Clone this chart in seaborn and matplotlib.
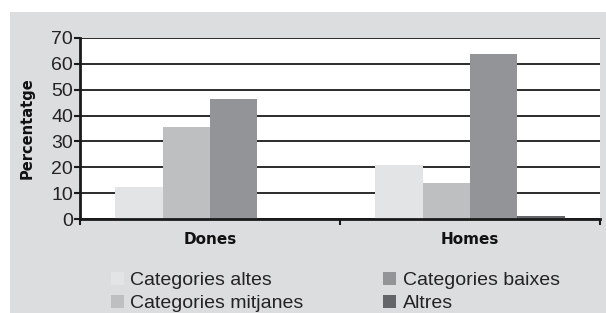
import pandas as pd
import matplotlib.pyplot as plt
import seaborn as sns
from matplotlib.patches import Rectangle

# Data
grups = ["Dones", "Homes"]
categories = ["Categories altes", "Categories mitjanes", "Categories baixes", "Altres"]
altes = [12.5, 20.8]
mitjanes = [35.6, 13.8]
baixes = [46.3, 63.7]
altres = [0.0, 1.0]
colors = ["#e3e4e6", "#bebfc1", "#939497", "#646568"]
yticks = [0, 10, 20, 30, 40, 50, 60, 70]

rows = []
for cat, vals in zip(categories, [altes, mitjanes, baixes, altres]):
    for g, v in zip(grups, vals):
        rows.append({"grup": g, "categoria": cat, "valor": v})
df = pd.DataFrame(rows)

sns.set_theme(style="white")
plt.rcParams["font.family"] = ["Liberation Sans", "DejaVu Sans"]

W, H = 606, 313
fig = plt.figure(figsize=(W / 100, H / 100), dpi=100, facecolor="white")
# grey panel behind the chart
fig.patches.append(Rectangle((10 / W, 0), 1, 1 - 12 / H, transform=fig.transFigure,
                             facecolor="#dcdddf", edgecolor="none", zorder=-10))

ax = fig.add_axes([80 / W, 1 - 219 / H, 520 / W, (219 - 38) / H])
ax.set_facecolor("white")

sns.barplot(data=df, x="grup", y="valor", hue="categoria", hue_order=categories,
            palette=colors, saturation=1, width=0.73, ax=ax, legend=False,
            edgecolor="none", linewidth=0)

ax.set_ylim(0, 70)
ax.set_xlim(-0.5, 1.5)
ax.set_yticks(yticks)
ax.set_yticklabels([str(t) for t in yticks], fontsize=14, color="#222222")
ax.yaxis.grid(True, color="#1a1a1a", linewidth=1.3)
ax.set_axisbelow(True)

for s in ["top", "right"]:
    ax.spines[s].set_visible(False)
ax.spines["left"].set_color("#1a1a1a")
ax.spines["left"].set_linewidth(2)
ax.spines["bottom"].set_color("#1a1a1a")
ax.spines["bottom"].set_linewidth(2)
ax.tick_params(axis="y", direction="out", length=4, width=1.5, color="#1a1a1a",
               pad=1, left=True)

# category labels centred, tick marks between groups
ax.set_xticks([-0.5, 0.5, 1.5])
ax.set_xticklabels([])
ax.tick_params(axis="x", direction="out", length=4, width=1.5, color="#1a1a1a", bottom=True)
for i, g in enumerate(grups):
    ax.text(i, -8.0, g, ha="center", va="center", fontsize=11,
            fontweight="bold", family="DejaVu Sans", color="#111111")

ax.set_xlabel("")
ax.set_ylabel("Percentatge", fontsize=10.5, fontweight="bold", family="DejaVu Sans",
              color="#111111", labelpad=12)

handles = [Rectangle((0, 0), 1, 1, facecolor=c, edgecolor="none") for c in colors]
fig.legend(handles, categories, ncol=2, loc="upper left",
           bbox_to_anchor=(111 / W, 1 - 272 / H), frameon=False,
           fontsize=14, handlelength=0.65, handleheight=0.65,
           handletextpad=0.35, columnspacing=4.1, labelspacing=0.3,
           borderpad=0, borderaxespad=0, labelcolor="#222222")

fig.savefig("out.png", dpi=100, facecolor="white")
